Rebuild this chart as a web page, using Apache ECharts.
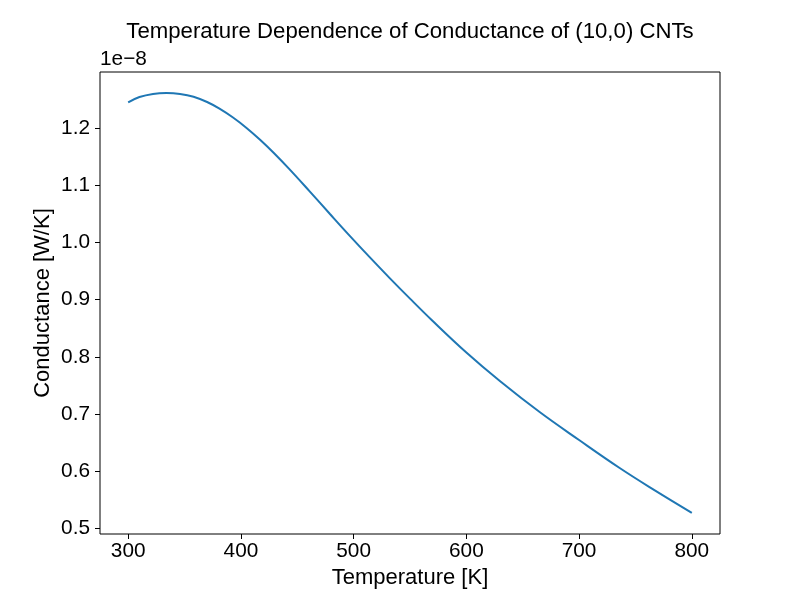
<!DOCTYPE html>
<html>
<head>
<meta charset="utf-8">
<title>Temperature Dependence of Conductance of (10,0) CNTs</title>
<script src="https://cdn.jsdelivr.net/npm/echarts@6/dist/echarts.min.js"></script>
<style>
    html, body { margin: 0; padding: 0; background: #fff; }
    #chart { width: 800px; height: 600px; }
</style>
</head>
<body>
<div id="chart"></div>
<script>
// Temperature [K]
const temperatures = [300, 310, 322, 334, 346, 358, 370, 381, 393, 405, 417, 429, 443, 461, 479, 497,
    514, 532, 550, 569, 600, 630, 665, 700, 736, 765, 800];

// Conductance [W/K], in units of 1e-8
const conductance = [1.2456, 1.2550, 1.2605, 1.2621, 1.2605, 1.2556, 1.2463, 1.2347, 1.2191, 1.2009, 1.1802,
    1.1574, 1.1287, 1.0898, 1.0502, 1.0110, 0.9750, 0.9379, 0.9019, 0.8649, 0.8075, 0.7571, 0.7032,
    0.6542, 0.6052, 0.5687, 0.5267];

// Tick labels
const xTicks = [300, 400, 500, 600, 700, 800];
const yTicks = [0.5, 0.6, 0.7, 0.8, 0.9, 1.0, 1.1, 1.2];

const font = '"Liberation Sans", Arial, sans-serif';

const chart = echarts.init(document.getElementById('chart'), null, { renderer: 'canvas' });

chart.setOption({
    animation: false,
    backgroundColor: '#fff',
    title: {
        text: 'Temperature Dependence of Conductance of (10,0) CNTs',
        left: 405,
        top: 16,
        textAlign: 'center',
        textStyle: { fontFamily: font, fontSize: 22.2, fontWeight: 'normal', color: '#000' }
    },
    graphic: [{
        type: 'text',
        left: 100,
        top: 49,
        style: { text: '1e\u22128', font: '20.8px ' + font, fill: '#000' }
    }],
    grid: {
        left: 100, right: 80, top: 72, bottom: 66,
        show: true, borderColor: '#000', borderWidth: 1, backgroundColor: 'transparent'
    },
    xAxis: {
        type: 'value',
        min: 275,
        max: 825,
        name: 'Temperature [K]',
        nameLocation: 'middle',
        nameGap: 33,
        nameMoveOverlap: false,
        nameTextStyle: { fontFamily: font, fontSize: 22, color: '#000' },
        axisLine: { show: false },
        splitLine: { show: false },
        axisTick: {
            show: true, inside: false, length: 5, customValues: xTicks,
            lineStyle: { color: '#000', width: 1 }
        },
        axisLabel: {
            customValues: xTicks, margin: 7,
            fontFamily: font, fontSize: 20.8, color: '#000'
        }
    },
    yAxis: {
        type: 'value',
        min: 0.4896,
        max: 1.2989,
        name: 'Conductance [W/K]',
        nameLocation: 'middle',
        nameGap: 46,
        nameMoveOverlap: false,
        nameTextStyle: { fontFamily: font, fontSize: 22, color: '#000' },
        axisLine: { show: false },
        splitLine: { show: false },
        axisTick: {
            show: true, inside: false, length: 5, customValues: yTicks,
            lineStyle: { color: '#000', width: 1 }
        },
        axisLabel: {
            customValues: yTicks, margin: 10,
            formatter: v => v.toFixed(1),
            fontFamily: font, fontSize: 20.8, color: '#000'
        }
    },
    series: [{
        type: 'line',
        data: temperatures.map((t, i) => [t, conductance[i]]),
        showSymbol: false,
        smooth: 0.4,
        lineStyle: { color: '#1f77b4', width: 2 },
        itemStyle: { color: '#1f77b4' }
    }]
});
</script>
</body>
</html>
